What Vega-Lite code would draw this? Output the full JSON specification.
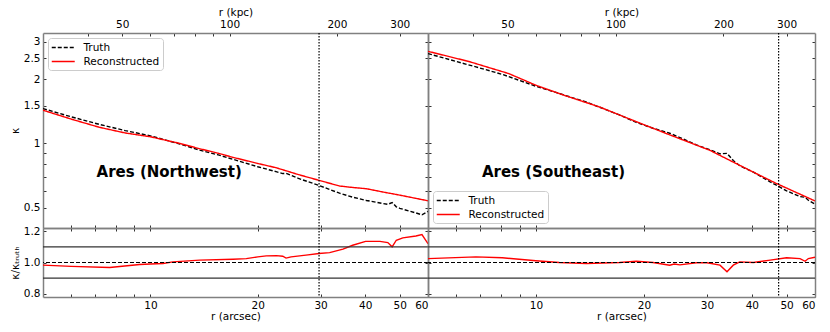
{
  "$schema": "https://vega.github.io/schema/vega-lite/v6.json",
  "background": "white",
  "padding": {"left": 10, "top": 7, "right": 5, "bottom": 5},
  "config": {
    "font": "DejaVu Sans",
    "view": {"stroke": null},
    "axis": {
      "labelFont": "DejaVu Sans", "labelFontSize": 10.5, "labelColor": "#000",
      "titleFont": "DejaVu Sans", "titleFontSize": 10.5, "titleFontWeight": "normal", "titleColor": "#000",
      "domainColor": "#808080", "domainWidth": 1.5, "tickColor": "#333", "tickWidth": 1,
      "tickSize": -3, "labelPadding": 6, "titlePadding": 3, "grid": false
    },
    "axisBottom": {"titlePadding": 1},
    "axisTop": {"labelPadding": 7, "titlePadding": 2}
  },
  "datasets": {
    "nw": [
      {"r": 5, "kappa": 1.456, "series": "Truth"},
      {"r": 6, "kappa": 1.333, "series": "Truth"},
      {"r": 7.2, "kappa": 1.228, "series": "Truth"},
      {"r": 8.5, "kappa": 1.149, "series": "Truth"},
      {"r": 10, "kappa": 1.086, "series": "Truth"},
      {"r": 12.1, "kappa": 0.994, "series": "Truth"},
      {"r": 13.74, "kappa": 0.931, "series": "Truth"},
      {"r": 15.5, "kappa": 0.884, "series": "Truth"},
      {"r": 17, "kappa": 0.844, "series": "Truth"},
      {"r": 20, "kappa": 0.778, "series": "Truth"},
      {"r": 22.5, "kappa": 0.738, "series": "Truth"},
      {"r": 23.5, "kappa": 0.723, "series": "Truth"},
      {"r": 24, "kappa": 0.725, "series": "Truth"},
      {"r": 24.8, "kappa": 0.709, "series": "Truth"},
      {"r": 26, "kappa": 0.686, "series": "Truth"},
      {"r": 29.7, "kappa": 0.636, "series": "Truth"},
      {"r": 33.9, "kappa": 0.585, "series": "Truth"},
      {"r": 37, "kappa": 0.56, "series": "Truth"},
      {"r": 40.3, "kappa": 0.541, "series": "Truth"},
      {"r": 45, "kappa": 0.523, "series": "Truth"},
      {"r": 46.3, "kappa": 0.519, "series": "Truth"},
      {"r": 47.6, "kappa": 0.529, "series": "Truth"},
      {"r": 48.9, "kappa": 0.505, "series": "Truth"},
      {"r": 50, "kappa": 0.497, "series": "Truth"},
      {"r": 55, "kappa": 0.475, "series": "Truth"},
      {"r": 57.7, "kappa": 0.4635, "series": "Truth"},
      {"r": 60, "kappa": 0.481, "series": "Truth"},
      {"r": 5, "kappa": 1.431, "series": "Reconstructed"},
      {"r": 6, "kappa": 1.3, "series": "Reconstructed"},
      {"r": 7.2, "kappa": 1.19, "series": "Reconstructed"},
      {"r": 8.5, "kappa": 1.12, "series": "Reconstructed"},
      {"r": 10, "kappa": 1.075, "series": "Reconstructed"},
      {"r": 12.1, "kappa": 1.0, "series": "Reconstructed"},
      {"r": 13.74, "kappa": 0.945, "series": "Reconstructed"},
      {"r": 15.5, "kappa": 0.9, "series": "Reconstructed"},
      {"r": 17, "kappa": 0.862, "series": "Reconstructed"},
      {"r": 20, "kappa": 0.806, "series": "Reconstructed"},
      {"r": 22.5, "kappa": 0.77, "series": "Reconstructed"},
      {"r": 24, "kappa": 0.745, "series": "Reconstructed"},
      {"r": 26, "kappa": 0.715, "series": "Reconstructed"},
      {"r": 29.7, "kappa": 0.672, "series": "Reconstructed"},
      {"r": 33.9, "kappa": 0.632, "series": "Reconstructed"},
      {"r": 37, "kappa": 0.622, "series": "Reconstructed"},
      {"r": 40.3, "kappa": 0.614, "series": "Reconstructed"},
      {"r": 45, "kappa": 0.592, "series": "Reconstructed"},
      {"r": 50, "kappa": 0.573, "series": "Reconstructed"},
      {"r": 55, "kappa": 0.555, "series": "Reconstructed"},
      {"r": 60, "kappa": 0.539, "series": "Reconstructed"}
    ],
    "se": [
      {"r": 5, "kappa": 2.634, "series": "Truth"},
      {"r": 6.8, "kappa": 2.283, "series": "Truth"},
      {"r": 8.06, "kappa": 2.106, "series": "Truth"},
      {"r": 10, "kappa": 1.853, "series": "Truth"},
      {"r": 11.62, "kappa": 1.713, "series": "Truth"},
      {"r": 13.8, "kappa": 1.564, "series": "Truth"},
      {"r": 17.1, "kappa": 1.36, "series": "Truth"},
      {"r": 19.05, "kappa": 1.255, "series": "Truth"},
      {"r": 21.2, "kappa": 1.178, "series": "Truth"},
      {"r": 23.6, "kappa": 1.117, "series": "Truth"},
      {"r": 25.2, "kappa": 1.066, "series": "Truth"},
      {"r": 28, "kappa": 0.985, "series": "Truth"},
      {"r": 30.5, "kappa": 0.935, "series": "Truth"},
      {"r": 32.6, "kappa": 0.894, "series": "Truth"},
      {"r": 34.1, "kappa": 0.899, "series": "Truth"},
      {"r": 35.5, "kappa": 0.832, "series": "Truth"},
      {"r": 37, "kappa": 0.787, "series": "Truth"},
      {"r": 40.4, "kappa": 0.734, "series": "Truth"},
      {"r": 45, "kappa": 0.661, "series": "Truth"},
      {"r": 47.5, "kappa": 0.63, "series": "Truth"},
      {"r": 50, "kappa": 0.6, "series": "Truth"},
      {"r": 54.5, "kappa": 0.564, "series": "Truth"},
      {"r": 56.3, "kappa": 0.56, "series": "Truth"},
      {"r": 57.5, "kappa": 0.542, "series": "Truth"},
      {"r": 60, "kappa": 0.52, "series": "Truth"},
      {"r": 5, "kappa": 2.7, "series": "Reconstructed"},
      {"r": 6.5, "kappa": 2.42, "series": "Reconstructed"},
      {"r": 8.4, "kappa": 2.124, "series": "Reconstructed"},
      {"r": 10, "kappa": 1.873, "series": "Reconstructed"},
      {"r": 12, "kappa": 1.68, "series": "Reconstructed"},
      {"r": 15.04, "kappa": 1.482, "series": "Reconstructed"},
      {"r": 18.6, "kappa": 1.285, "series": "Reconstructed"},
      {"r": 23.1, "kappa": 1.113, "series": "Reconstructed"},
      {"r": 30.5, "kappa": 0.93, "series": "Reconstructed"},
      {"r": 34.1, "kappa": 0.846, "series": "Reconstructed"},
      {"r": 35.4, "kappa": 0.82, "series": "Reconstructed"},
      {"r": 40, "kappa": 0.74, "series": "Reconstructed"},
      {"r": 46.8, "kappa": 0.65, "series": "Reconstructed"},
      {"r": 52, "kappa": 0.6, "series": "Reconstructed"},
      {"r": 60, "kappa": 0.538, "series": "Reconstructed"}
    ],
    "nwRatio": [
      {"r": 5, "ratio": 0.983}, {"r": 6, "ratio": 0.975}, {"r": 7.69, "ratio": 0.968},
      {"r": 9.33, "ratio": 0.987}, {"r": 10, "ratio": 0.99}, {"r": 10.85, "ratio": 0.994},
      {"r": 11.57, "ratio": 1.004}, {"r": 13.74, "ratio": 1.015}, {"r": 17.05, "ratio": 1.021},
      {"r": 18.57, "ratio": 1.025}, {"r": 20, "ratio": 1.036}, {"r": 21.13, "ratio": 1.042},
      {"r": 22.55, "ratio": 1.044}, {"r": 23.5, "ratio": 1.04}, {"r": 24, "ratio": 1.028},
      {"r": 24.8, "ratio": 1.036}, {"r": 27.3, "ratio": 1.047}, {"r": 29.7, "ratio": 1.057},
      {"r": 31.8, "ratio": 1.063}, {"r": 34.66, "ratio": 1.085}, {"r": 36.9, "ratio": 1.11},
      {"r": 40.1, "ratio": 1.135}, {"r": 44, "ratio": 1.135}, {"r": 46.3, "ratio": 1.127},
      {"r": 47.6, "ratio": 1.1}, {"r": 48.9, "ratio": 1.142}, {"r": 51, "ratio": 1.157},
      {"r": 55.5, "ratio": 1.169}, {"r": 57.7, "ratio": 1.178}, {"r": 60, "ratio": 1.12}
    ],
    "seRatio": [
      {"r": 5, "ratio": 1.025}, {"r": 6.8, "ratio": 1.036}, {"r": 8.06, "ratio": 1.03},
      {"r": 10, "ratio": 1.011}, {"r": 11.62, "ratio": 1.0}, {"r": 13.8, "ratio": 0.994},
      {"r": 17.1, "ratio": 1.0}, {"r": 19.05, "ratio": 1.008}, {"r": 21.2, "ratio": 1.0},
      {"r": 23.6, "ratio": 0.983}, {"r": 24.3, "ratio": 0.99}, {"r": 25.2, "ratio": 0.985},
      {"r": 28, "ratio": 0.998}, {"r": 30, "ratio": 0.998}, {"r": 32.6, "ratio": 0.983},
      {"r": 34.1, "ratio": 0.941}, {"r": 35.5, "ratio": 0.983}, {"r": 37, "ratio": 1.004},
      {"r": 40.4, "ratio": 1.0}, {"r": 45, "ratio": 1.015}, {"r": 50, "ratio": 1.03},
      {"r": 54.5, "ratio": 1.025}, {"r": 56.3, "ratio": 1.008}, {"r": 57.5, "ratio": 1.025},
      {"r": 60, "ratio": 1.034}
    ]
  },
  "columns": 2,
  "spacing": 0,
  "bounds": "flush",
  "resolve": {"scale": {"x": "independent", "y": "independent", "color": "independent", "strokeDash": "independent"}},
  "concat": [
    {
      "width": 385, "height": 195,
      "layer": [
        {
          "data": {"name": "nw"},
          "mark": {"type": "line", "strokeWidth": 1.4, "clip": true},
          "encoding": {
            "x": {"field": "r", "type": "quantitative", "scale": {"type": "log", "domain": [5, 60], "nice": false},
                  "axis": {"orient": "bottom", "values": [6, 7, 8, 9, 10, 20, 30, 40, 50, 60], "labels": false, "title": null}},
            "y": {"field": "kappa", "type": "quantitative", "scale": {"type": "log", "domain": [0.402, 3.29], "nice": false},
                  "axis": {"orient": "left", "values": [0.5, 0.6, 0.7, 0.8, 0.9, 1, 1.5, 2, 2.5, 3], "format": "~g",
                           "labelExpr": "indexof([0.5,1,1.5,2,2.5,3], datum.value) >= 0 ? datum.label : ''", "title": "κ"}},
            "color": {"field": "series", "type": "nominal", "scale": {"domain": ["Truth", "Reconstructed"], "range": ["black", "red"]},
                      "legend": {"title": null, "orient": "top-left", "offset": 5, "symbolType": "M-1,0H3", "symbolSize": 132, "symbolStrokeWidth": 1.4,
                                 "labelOffset": 19.5, "padding": 3, "rowPadding": 2, "fillColor": "white", "strokeColor": "#cccccc", "cornerRadius": 3,
                                 "labelFont": "DejaVu Sans", "labelFontSize": 10.5, "labelColor": "#000"}},
            "strokeDash": {"field": "series", "type": "nominal", "scale": {"domain": ["Truth", "Reconstructed"], "range": [[4, 2], [1, 0]]},
                      "legend": {"title": null, "orient": "top-left", "offset": 5, "symbolType": "M-1,0H3", "symbolSize": 132, "symbolStrokeWidth": 1.4,
                                 "labelOffset": 19.5, "padding": 3, "rowPadding": 2, "fillColor": "white", "strokeColor": "#cccccc", "cornerRadius": 3,
                                 "labelFont": "DejaVu Sans", "labelFontSize": 10.5, "labelColor": "#000"}}
          }
        },
        {
          "data": {"values": [{"r": 29.7}]},
          "mark": {"type": "rule", "color": "black", "strokeWidth": 1.2, "strokeDash": [1.5, 1.5]},
          "encoding": {
            "x": {"field": "r", "type": "quantitative",
                  "axis": {"orient": "top", "values": [6.666667, 8.333333, 10, 11.666667, 13.333333, 15, 16.666667, 33.333333, 50],
                           "labelExpr": "indexof([50,100,200,300], round(datum.value*6)) >= 0 ? '' + round(datum.value*6) : ''", "title": "r (kpc)"}}
          }
        },
        {
          "data": {"values": [{"r": 11.29, "kappa": 0.737, "label": "Ares (Northwest)"}]},
          "mark": {"type": "text", "font": "DejaVu Sans", "fontSize": 15, "fontWeight": "bold", "color": "black"},
          "encoding": {
            "x": {"field": "r", "type": "quantitative", "axis": null},
            "y": {"field": "kappa", "type": "quantitative",
                  "axis": {"orient": "right", "values": [0.5, 0.6, 0.7, 0.8, 0.9, 1, 1.5, 2, 2.5, 3], "labels": false, "title": null}},
            "text": {"field": "label"}
          }
        }
      ],
      "resolve": {"axis": {"x": "independent", "y": "independent"}}
    },
    {
      "width": 387, "height": 195,
      "layer": [
        {
          "data": {"name": "se"},
          "mark": {"type": "line", "strokeWidth": 1.4, "clip": true},
          "encoding": {
            "x": {"field": "r", "type": "quantitative", "scale": {"type": "log", "domain": [5, 60], "nice": false},
                  "axis": {"orient": "bottom", "values": [6, 7, 8, 9, 10, 20, 30, 40, 50, 60], "labels": false, "title": null}},
            "y": {"field": "kappa", "type": "quantitative", "scale": {"type": "log", "domain": [0.402, 3.29], "nice": false},
                  "axis": {"orient": "left", "values": [0.5, 0.6, 0.7, 0.8, 0.9, 1, 1.5, 2, 2.5, 3], "labels": false, "title": null}},
            "color": {"field": "series", "type": "nominal", "scale": {"domain": ["Truth", "Reconstructed"], "range": ["black", "red"]},
                      "legend": {"title": null, "orient": "bottom-left", "offset": 5, "symbolType": "M-1,0H3", "symbolSize": 132, "symbolStrokeWidth": 1.4,
                                 "labelOffset": 19.5, "padding": 3, "rowPadding": 2, "fillColor": "white", "strokeColor": "#cccccc", "cornerRadius": 3,
                                 "labelFont": "DejaVu Sans", "labelFontSize": 10.5, "labelColor": "#000"}},
            "strokeDash": {"field": "series", "type": "nominal", "scale": {"domain": ["Truth", "Reconstructed"], "range": [[4, 2], [1, 0]]},
                      "legend": {"title": null, "orient": "bottom-left", "offset": 5, "symbolType": "M-1,0H3", "symbolSize": 132, "symbolStrokeWidth": 1.4,
                                 "labelOffset": 19.5, "padding": 3, "rowPadding": 2, "fillColor": "white", "strokeColor": "#cccccc", "cornerRadius": 3,
                                 "labelFont": "DejaVu Sans", "labelFontSize": 10.5, "labelColor": "#000"}}
          }
        },
        {
          "data": {"values": [{"r": 47.5}]},
          "mark": {"type": "rule", "color": "black", "strokeWidth": 1.2, "strokeDash": [1.5, 1.5]},
          "encoding": {
            "x": {"field": "r", "type": "quantitative",
                  "axis": {"orient": "top", "values": [6.666667, 8.333333, 10, 11.666667, 13.333333, 15, 16.666667, 33.333333, 50],
                           "labelExpr": "indexof([50,100,200,300], round(datum.value*6)) >= 0 ? '' + round(datum.value*6) : ''", "title": "r (kpc)"}}
          }
        },
        {
          "data": {"values": [{"r": 11.19, "kappa": 0.737, "label": "Ares (Southeast)"}]},
          "mark": {"type": "text", "font": "DejaVu Sans", "fontSize": 15, "fontWeight": "bold", "color": "black"},
          "encoding": {
            "x": {"field": "r", "type": "quantitative", "axis": null},
            "y": {"field": "kappa", "type": "quantitative",
                  "axis": {"orient": "right", "values": [0.5, 0.6, 0.7, 0.8, 0.9, 1, 1.5, 2, 2.5, 3], "labels": false, "title": null}},
            "text": {"field": "label"}
          }
        }
      ],
      "resolve": {"axis": {"x": "independent", "y": "independent"}}
    },
    {
      "width": 385, "height": 69,
      "layer": [
        {
          "data": {"name": "nwRatio"},
          "mark": {"type": "line", "color": "red", "strokeWidth": 1.4, "clip": true},
          "encoding": {
            "x": {"field": "r", "type": "quantitative", "scale": {"type": "log", "domain": [5, 60], "nice": false},
                  "axis": {"orient": "bottom", "values": [6, 7, 8, 9, 10, 20, 30, 40, 50, 60], "format": "d",
                           "labelExpr": "datum.value >= 10 ? datum.label : ''", "title": "r (arcsec)"}},
            "y": {"field": "ratio", "type": "quantitative", "scale": {"domain": [0.78, 1.22], "zero": false, "nice": false},
                  "axis": {"orient": "left", "values": [0.8, 1.0, 1.2], "format": ".1f", "title": "κ/κₜᵣᵤₜₕ"}}
          }
        },
        {
          "data": {"values": [{"y": 0.9}, {"y": 1.1}]},
          "mark": {"type": "rule", "color": "#333", "strokeWidth": 1.2},
          "encoding": {
            "y": {"field": "y", "type": "quantitative", "axis": {"orient": "right", "values": [0.8, 1.0, 1.2], "labels": false, "title": null}}
          }
        },
        {
          "data": {"values": [{"y": 1.0}]},
          "mark": {"type": "rule", "color": "black", "strokeWidth": 1.2, "strokeDash": [4, 2]},
          "encoding": {"y": {"field": "y", "type": "quantitative", "axis": null}}
        },
        {
          "data": {"values": [{"r": 29.7}]},
          "mark": {"type": "rule", "color": "black", "strokeWidth": 1.2, "strokeDash": [1.5, 1.5]},
          "encoding": {
            "x": {"field": "r", "type": "quantitative", "axis": {"orient": "top", "values": [6, 7, 8, 9, 10, 20, 30, 40, 50, 60], "labels": false, "title": null}}
          }
        }
      ],
      "resolve": {"axis": {"x": "independent", "y": "independent"}}
    },
    {
      "width": 387, "height": 69,
      "layer": [
        {
          "data": {"name": "seRatio"},
          "mark": {"type": "line", "color": "red", "strokeWidth": 1.4, "clip": true},
          "encoding": {
            "x": {"field": "r", "type": "quantitative", "scale": {"type": "log", "domain": [5, 60], "nice": false},
                  "axis": {"orient": "bottom", "values": [6, 7, 8, 9, 10, 20, 30, 40, 50, 60], "format": "d",
                           "labelExpr": "datum.value >= 10 ? datum.label : ''", "title": "r (arcsec)"}},
            "y": {"field": "ratio", "type": "quantitative", "scale": {"domain": [0.78, 1.22], "zero": false, "nice": false},
                  "axis": {"orient": "left", "values": [0.8, 1.0, 1.2], "labels": false, "title": null}}
          }
        },
        {
          "data": {"values": [{"y": 0.9}, {"y": 1.1}]},
          "mark": {"type": "rule", "color": "#333", "strokeWidth": 1.2},
          "encoding": {
            "y": {"field": "y", "type": "quantitative", "axis": {"orient": "right", "values": [0.8, 1.0, 1.2], "labels": false, "title": null}}
          }
        },
        {
          "data": {"values": [{"y": 1.0}]},
          "mark": {"type": "rule", "color": "black", "strokeWidth": 1.2, "strokeDash": [4, 2]},
          "encoding": {"y": {"field": "y", "type": "quantitative", "axis": null}}
        },
        {
          "data": {"values": [{"r": 47.5}]},
          "mark": {"type": "rule", "color": "black", "strokeWidth": 1.2, "strokeDash": [1.5, 1.5]},
          "encoding": {
            "x": {"field": "r", "type": "quantitative", "axis": {"orient": "top", "values": [6, 7, 8, 9, 10, 20, 30, 40, 50, 60], "labels": false, "title": null}}
          }
        }
      ],
      "resolve": {"axis": {"x": "independent", "y": "independent"}}
    }
  ]
}
